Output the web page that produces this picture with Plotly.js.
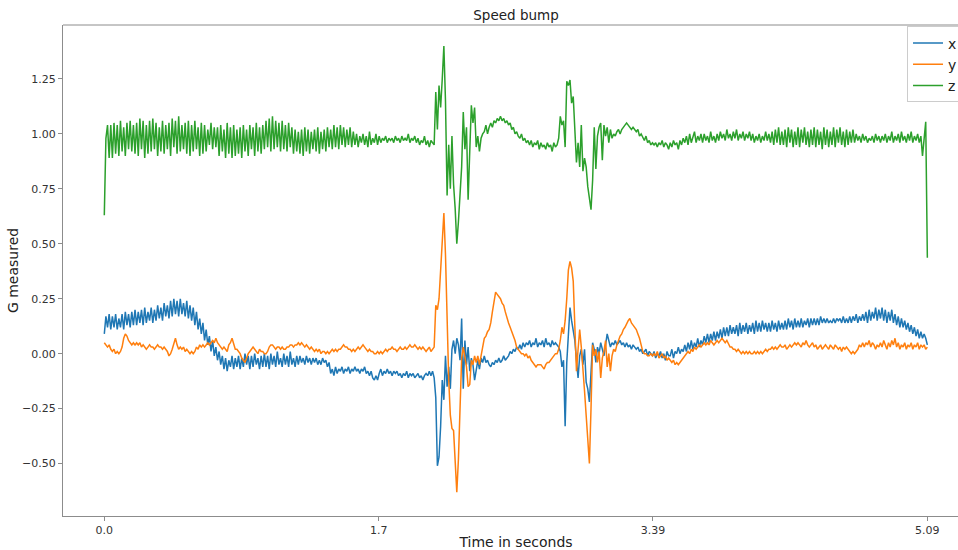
<!DOCTYPE html>
<html>
<head>
<meta charset="utf-8">
<script src="https://cdn.plot.ly/plotly-3.0.1.min.js"></script>
<style>
  html, body { margin: 0; padding: 0; overflow: hidden; background: #fff; }
  #chart { width: 980px; height: 550px; }
</style>
</head>
<body>
<div id="chart"></div>
<script>
// Accelerometer readings (in G) sampled every 10 ms while driving over a speed bump.
const sampleInterval = 0.01;

const accelX = [
  0.09, 0.17, 0.12, 0.18, 0.11, 0.17, 0.12, 0.18, 0.11, 0.16,
  0.12, 0.18, 0.11, 0.19, 0.13, 0.18, 0.12, 0.19, 0.13, 0.20,
  0.13, 0.19, 0.14, 0.20, 0.13, 0.21, 0.14, 0.19, 0.15, 0.21,
  0.14, 0.20, 0.15, 0.22, 0.16, 0.21, 0.15, 0.23, 0.17, 0.22,
  0.16, 0.24, 0.17, 0.25, 0.18, 0.24, 0.17, 0.25, 0.18, 0.23,
  0.17, 0.24, 0.16, 0.22, 0.15, 0.21, 0.13, 0.19, 0.11, 0.16,
  0.09, 0.14, 0.06, 0.11, 0.04, 0.08, 0.01, 0.06, -0.01, 0.03,
  -0.03, 0.01, -0.05, -0.01, -0.07, -0.02, -0.08, -0.03, -0.06, -0.01,
  -0.07, -0.02, -0.06, -0.01, -0.07, -0.02, -0.06, 0.00, -0.05, -0.01,
  -0.07, -0.01, -0.06, 0.00, -0.05, -0.02, -0.07, -0.01, -0.06, 0.00,
  -0.06, -0.01, -0.07, 0.00, -0.05, -0.01, -0.06, 0.01, -0.05, -0.02,
  -0.06, 0.00, -0.05, -0.01, -0.06, 0.01, -0.05, -0.02, -0.06, -0.01,
  -0.05, -0.01, -0.04, -0.02, -0.05, -0.01, -0.04, -0.02, -0.05, -0.02,
  -0.04, -0.02, -0.05, -0.03, -0.05, -0.02, -0.04, -0.03, -0.06, -0.04,
  -0.09, -0.07, -0.10, -0.06, -0.09, -0.07, -0.08, -0.06, -0.09, -0.07,
  -0.08, -0.06, -0.09, -0.07, -0.08, -0.06, -0.08, -0.07, -0.09, -0.07,
  -0.08, -0.06, -0.09, -0.08, -0.10, -0.08, -0.11, -0.12, -0.10, -0.12,
  -0.09, -0.07, -0.10, -0.08, -0.09, -0.07, -0.09, -0.08, -0.10, -0.08,
  -0.09, -0.08, -0.10, -0.09, -0.11, -0.09, -0.10, -0.08, -0.11, -0.09,
  -0.10, -0.09, -0.11, -0.10, -0.09, -0.11, -0.10, -0.12, -0.10, -0.09,
  -0.10, -0.08, -0.10, -0.08, -0.11, -0.20, -0.51, -0.47, -0.33, -0.12,
  -0.21, -0.01, -0.15, -0.06, -0.16, 0.02, 0.06, 0.00, 0.07, 0.04,
  -0.03, 0.16, -0.16, 0.06, -0.05, 0.03, -0.08, -0.02, -0.05, -0.12,
  -0.08, -0.03, -0.07, -0.02, -0.04, -0.01, -0.04, -0.03, -0.05, -0.06,
  -0.04, -0.05, -0.03, -0.04, -0.02, -0.04, -0.03, -0.01, -0.03, -0.02,
  -0.01, 0.01, 0.00, 0.02, 0.01, 0.03, 0.02, 0.04, 0.02, 0.05,
  0.03, 0.05, 0.04, 0.06, 0.03, 0.05, 0.04, 0.07, 0.03, 0.05,
  0.04, 0.06, 0.03, 0.07, 0.04, 0.05, 0.03, 0.06, 0.04, 0.05,
  0.04, 0.03, 0.01, -0.06, -0.03, -0.33, -0.04, 0.12, 0.21, 0.15,
  0.10, 0.06, -0.03, -0.11, -0.01, 0.02, -0.05, 0.02, -0.13, -0.16,
  -0.22, -0.09, 0.05, 0.02, -0.04, 0.03, 0.00, 0.05, 0.02, -0.01,
  0.04, 0.09, 0.06, 0.03, 0.05, 0.04, 0.06, 0.04, 0.05, 0.06,
  0.04, 0.05, 0.03, 0.05, 0.03, 0.04, 0.02, 0.04, 0.03, 0.02,
  0.03, 0.01, 0.02, 0.00, 0.01, 0.02, -0.01, 0.01, 0.00, -0.01,
  0.01, -0.02, 0.00, -0.01, 0.01, -0.02, 0.00, -0.03, 0.01, -0.01,
  -0.01, 0.02, -0.02, 0.01, 0.00, 0.03, 0.00, 0.02, 0.01, 0.04,
  0.01, 0.05, 0.02, 0.06, 0.02, 0.05, 0.03, 0.07, 0.03, 0.06,
  0.04, 0.08, 0.05, 0.09, 0.05, 0.09, 0.06, 0.10, 0.06, 0.10,
  0.07, 0.11, 0.07, 0.12, 0.08, 0.12, 0.08, 0.13, 0.09, 0.12,
  0.09, 0.13, 0.08, 0.14, 0.09, 0.13, 0.10, 0.14, 0.09, 0.13,
  0.10, 0.14, 0.09, 0.15, 0.10, 0.14, 0.10, 0.15, 0.11, 0.14,
  0.10, 0.14, 0.10, 0.15, 0.11, 0.14, 0.10, 0.15, 0.11, 0.14,
  0.11, 0.15, 0.11, 0.16, 0.12, 0.15, 0.11, 0.16, 0.12, 0.15,
  0.12, 0.16, 0.12, 0.15, 0.13, 0.16, 0.12, 0.16, 0.13, 0.16,
  0.13, 0.16, 0.13, 0.17, 0.14, 0.16, 0.14, 0.16, 0.14, 0.15,
  0.14, 0.16, 0.14, 0.16, 0.15, 0.16, 0.14, 0.17, 0.14, 0.16,
  0.14, 0.17, 0.14, 0.17, 0.15, 0.18, 0.14, 0.17, 0.15, 0.18,
  0.15, 0.19, 0.14, 0.20, 0.15, 0.19, 0.16, 0.21, 0.15, 0.20,
  0.16, 0.21, 0.15, 0.20, 0.14, 0.19, 0.15, 0.20, 0.14, 0.18,
  0.13, 0.17, 0.12, 0.16, 0.12, 0.15, 0.11, 0.14, 0.10, 0.13,
  0.09, 0.12, 0.08, 0.11, 0.07, 0.10, 0.07, 0.09, 0.07, 0.04
];

const accelY = [
  0.05, 0.04, 0.03, 0.04, 0.02, 0.01, 0.02, 0.00, 0.01, 0.00,
  0.01, 0.03, 0.07, 0.09, 0.08, 0.06, 0.05, 0.04, 0.05, 0.04,
  0.05, 0.04, 0.05, 0.03, 0.04, 0.03, 0.02, 0.03, 0.04, 0.03,
  0.03, 0.02, 0.03, 0.04, 0.03, 0.03, 0.02, 0.03, 0.02, 0.01,
  -0.01, 0.00, 0.02, 0.05, 0.07, 0.04, 0.02, 0.03, 0.02, 0.03,
  0.01, 0.02, 0.01, 0.00, 0.01, 0.00, 0.01, 0.03, 0.02, 0.04,
  0.03, 0.04, 0.03, 0.04, 0.05, 0.04, 0.05, 0.06, 0.05, 0.07,
  0.05, 0.04, 0.03, 0.02, 0.03, 0.02, 0.01, 0.04, 0.05, 0.07,
  0.04, 0.02, 0.02, 0.01, 0.00, -0.02, -0.03, -0.04, -0.02, 0.00,
  0.01, 0.02, 0.03, 0.02, 0.01, 0.00, 0.02, 0.01, 0.01, 0.00,
  0.00, 0.01, 0.03, 0.04, 0.04, 0.03, 0.02, 0.03, 0.03, 0.02,
  0.03, 0.02, 0.02, 0.03, 0.03, 0.04, 0.04, 0.03, 0.04, 0.04,
  0.05, 0.04, 0.05, 0.04, 0.03, 0.04, 0.03, 0.02, 0.03, 0.02,
  0.01, 0.02, 0.01, 0.02, 0.00, 0.01, 0.01, 0.00, 0.01, 0.00,
  0.01, 0.02, 0.01, 0.02, 0.01, 0.02, 0.02, 0.03, 0.04, 0.03,
  0.03, 0.02, 0.02, 0.01, 0.02, 0.01, 0.02, 0.03, 0.02, 0.03,
  0.04, 0.03, 0.02, 0.01, 0.02, 0.01, 0.01, 0.00, 0.00, 0.01,
  0.00, 0.01, 0.00, 0.01, 0.02, 0.01, 0.02, 0.02, 0.03, 0.02,
  0.02, 0.01, 0.02, 0.03, 0.02, 0.02, 0.03, 0.02, 0.03, 0.04,
  0.03, 0.03, 0.04, 0.03, 0.02, 0.03, 0.02, 0.03, 0.02, 0.01,
  0.02, 0.03, 0.01, 0.02, 0.03, 0.22, 0.20, 0.25, 0.38, 0.52,
  0.64, 0.45, 0.10, -0.12, -0.28, -0.34, -0.35, -0.47, -0.63, -0.48,
  -0.18, -0.02, 0.03, -0.01, -0.06, -0.15, -0.14, -0.03, -0.05, -0.01,
  -0.04, -0.01, -0.05, -0.01, 0.03, 0.07, 0.08, 0.10, 0.11, 0.14,
  0.19, 0.24, 0.28, 0.27, 0.26, 0.25, 0.23, 0.22, 0.19, 0.16,
  0.14, 0.12, 0.10, 0.08, 0.06, 0.03, 0.02, 0.01, 0.00, 0.00,
  -0.01, 0.00, -0.02, -0.01, -0.03, -0.04, -0.05, -0.06, -0.05, -0.05,
  -0.05, -0.06, -0.07, -0.05, -0.04, -0.04, -0.03, -0.02, -0.01, 0.00,
  0.00, 0.02, 0.06, 0.12, 0.09, 0.15, 0.25, 0.38, 0.42, 0.39,
  0.33, 0.10, -0.08, 0.02, 0.11, 0.03, -0.10, -0.17, -0.28, -0.40,
  -0.50, -0.25, 0.04, -0.01, 0.02, -0.04, 0.01, -0.11, -0.02, 0.01,
  0.06, -0.06, 0.00, -0.08, -0.01, 0.02, 0.01, 0.04, 0.06, 0.08,
  0.09, 0.11, 0.12, 0.14, 0.15, 0.16, 0.14, 0.13, 0.12, 0.11,
  0.09, 0.07, 0.04, 0.01, 0.00, 0.00, -0.01, -0.01, 0.00, -0.01,
  0.00, -0.01, 0.01, -0.02, -0.01, 0.00, -0.02, -0.01, -0.03, -0.02,
  -0.03, -0.04, -0.03, -0.05, -0.04, -0.05, -0.04, -0.03, -0.02, -0.01,
  0.00, 0.01, 0.00, 0.02, 0.01, 0.03, 0.02, 0.03, 0.04, 0.03,
  0.04, 0.05, 0.04, 0.05, 0.04, 0.06, 0.05, 0.04, 0.05, 0.06,
  0.05, 0.06, 0.07, 0.06, 0.05, 0.06, 0.04, 0.03, 0.03, 0.02,
  0.02, 0.01, 0.02, 0.01, 0.00, 0.01, 0.00, 0.01, 0.00, 0.01,
  0.00, 0.00, 0.01, 0.00, 0.01, 0.00, 0.01, 0.00, 0.01, 0.02,
  0.01, 0.02, 0.02, 0.03, 0.02, 0.03, 0.02, 0.03, 0.04, 0.03,
  0.03, 0.04, 0.02, 0.03, 0.04, 0.03, 0.04, 0.05, 0.04, 0.05,
  0.04, 0.03, 0.05, 0.04, 0.06, 0.04, 0.03, 0.04, 0.05, 0.03,
  0.04, 0.02, 0.03, 0.04, 0.02, 0.03, 0.04, 0.03, 0.02, 0.04,
  0.03, 0.02, 0.04, 0.03, 0.02, 0.03, 0.01, 0.03, 0.02, 0.03,
  0.02, 0.01, 0.00, 0.01, 0.00, 0.01, 0.02, 0.04, 0.03, 0.05,
  0.03, 0.05, 0.04, 0.06, 0.03, 0.05, 0.04, 0.02, 0.04, 0.03,
  0.05, 0.03, 0.06, 0.04, 0.02, 0.05, 0.03, 0.06, 0.04, 0.07,
  0.03, 0.05, 0.02, 0.04, 0.03, 0.05, 0.02, 0.04, 0.03, 0.05,
  0.02, 0.04, 0.03, 0.05, 0.02, 0.04, 0.03, 0.04, 0.02, 0.03
];

const accelZ = [
  0.63, 0.98, 1.04, 0.89, 1.04, 0.89, 1.05, 0.91, 1.04, 0.90,
  1.06, 0.92, 1.03, 0.90, 1.05, 0.93, 1.06, 0.92, 1.04, 0.91,
  1.05, 0.90, 1.07, 0.93, 1.06, 0.89, 1.04, 0.91, 1.06, 0.92,
  1.07, 0.93, 1.05, 0.90, 1.03, 0.92, 1.06, 0.91, 1.04, 0.93,
  1.05, 0.90, 1.07, 0.94, 1.06, 0.91, 1.08, 0.92, 1.04, 0.93,
  1.05, 0.91, 1.06, 0.90, 1.04, 0.92, 1.06, 0.93, 1.03, 0.90,
  1.05, 0.91, 1.04, 0.92, 1.02, 0.95, 1.05, 0.93, 1.03, 0.94,
  1.03, 0.90, 1.04, 0.92, 1.02, 0.89, 1.05, 0.91, 1.03, 0.89,
  1.04, 0.90, 1.02, 0.91, 1.03, 0.89, 1.04, 0.92, 1.02, 0.90,
  1.04, 0.93, 1.03, 0.90, 1.05, 0.92, 1.03, 0.91, 1.04, 0.93,
  1.06, 0.94, 1.07, 0.92, 1.08, 0.93, 1.06, 0.94, 1.05, 0.92,
  1.06, 0.93, 1.04, 0.92, 1.05, 0.94, 1.03, 0.91, 1.02, 0.92,
  1.01, 0.91, 1.02, 0.90, 1.03, 0.92, 1.02, 0.91, 1.01, 0.93,
  1.02, 0.92, 1.03, 0.91, 1.01, 0.93, 1.02, 0.92, 1.03, 0.94,
  1.02, 0.93, 1.04, 0.94, 1.03, 0.93, 1.04, 0.95, 1.03, 0.94,
  1.02, 0.95, 1.03, 0.94, 1.01, 0.95, 1.00, 0.94, 0.99, 0.96,
  1.00, 0.95, 0.99, 0.94, 1.01, 0.95, 0.98, 0.96, 1.00, 0.95,
  0.99, 0.96, 0.98, 0.97, 0.99, 0.96, 0.98, 0.97, 0.98, 0.96,
  0.99, 0.97, 0.98, 0.96, 0.99, 0.97, 0.98, 0.97, 1.00, 0.96,
  0.98, 0.97, 0.99, 0.96, 0.98, 0.95, 0.97, 0.96, 0.99, 0.95,
  0.97, 0.94, 0.97, 0.96, 0.95, 1.19, 1.02, 1.22, 1.12, 1.25,
  1.40, 1.15, 0.72, 0.95, 0.75, 0.99, 0.77, 0.66, 0.50, 0.60,
  0.75, 0.85, 1.10, 0.93, 1.03, 0.70, 0.92, 1.13, 1.05, 1.12,
  0.94, 0.99, 0.92, 0.98, 1.00, 1.01, 1.04, 1.00, 1.03, 1.05,
  1.03, 1.06, 1.05, 1.07, 1.06, 1.08, 1.06, 1.07, 1.05, 1.06,
  1.04, 1.05, 1.02, 1.03, 1.00, 1.01, 0.99, 0.98, 1.00, 0.97,
  0.98, 0.96, 0.97, 0.95, 0.97, 0.94, 0.96, 0.95, 0.97, 0.93,
  0.96, 0.94, 0.95, 0.93, 0.96, 0.94, 0.95, 0.92, 0.96, 0.94,
  0.95, 0.98, 1.08, 1.04, 1.06, 0.94, 1.24, 1.22, 1.245, 1.14,
  1.17, 1.01, 0.87, 0.96, 0.85, 1.04, 0.83, 0.89, 0.85, 0.76,
  0.70, 0.655, 0.79, 1.03, 0.84, 0.99, 1.03, 1.05, 0.88, 1.04,
  0.99, 1.03, 0.96, 1.02, 0.98, 1.00, 0.99, 1.01, 1.02, 1.00,
  1.02, 1.03, 1.04, 1.05, 1.04, 1.03, 1.02, 1.03, 1.02, 1.01,
  1.02, 0.99, 1.00, 0.98, 0.97, 0.99, 0.96, 0.97, 0.95, 0.96,
  0.95, 0.96, 0.94, 0.96, 0.95, 0.97, 0.94, 0.96, 0.95, 0.93,
  0.96, 0.94, 0.97, 0.95, 0.96, 0.93, 0.97, 0.95, 0.98, 0.96,
  0.99, 0.95, 1.00, 0.96, 0.98, 1.01, 0.96, 0.99, 0.97, 1.00,
  0.96, 1.00, 0.97, 0.99, 0.96, 1.01, 0.97, 0.99, 0.96, 1.00,
  0.97, 1.01, 0.98, 1.00, 0.97, 1.02, 0.98, 1.00, 0.97, 1.01,
  0.98, 1.02, 0.97, 1.00, 0.98, 1.01, 0.97, 1.00, 0.98, 1.01,
  0.97, 1.00, 0.96, 0.99, 0.97, 1.00, 0.96, 0.99, 0.97, 1.01,
  0.97, 1.00, 0.96, 1.01, 0.95, 1.02, 0.96, 1.03, 0.95, 1.01,
  0.95, 1.02, 0.94, 1.03, 0.96, 1.02, 0.94, 1.01, 0.95, 1.03,
  0.94, 1.02, 0.96, 1.03, 0.95, 1.01, 0.94, 1.02, 0.95, 1.03,
  0.94, 1.02, 0.95, 1.01, 0.93, 1.03, 0.95, 1.02, 0.94, 1.01,
  0.95, 1.03, 0.94, 1.02, 0.96, 1.03, 0.95, 1.01, 0.94, 1.02,
  0.95, 1.01, 0.96, 1.02, 0.96, 1.00, 0.97, 0.99, 0.96, 1.00,
  0.97, 0.99, 0.96, 0.98, 0.97, 0.99, 0.96, 1.00, 0.97, 0.99,
  0.96, 0.99, 0.97, 1.00, 0.96, 0.99, 0.97, 1.01, 0.96, 0.99,
  0.97, 1.00, 0.96, 1.01, 0.97, 0.99, 0.96, 1.00, 0.97, 1.01,
  0.96, 0.99, 0.97, 1.00, 0.96, 0.99, 0.90, 1.00, 1.055, 0.436
];

// Tick positions: four evenly spaced marks from start to end of the recording.
const timeTickVals = [0, 1.6967, 3.3933, 5.09];
const timeTickText = ['0.0', '1.7', '3.39', '5.09'];
const gTickVals = [-0.5, -0.25, 0, 0.25, 0.5, 0.75, 1.0, 1.25];
const gTickText = ['\u22120.50', '\u22120.25', '0.00', '0.25', '0.50', '0.75', '1.00', '1.25'];

const seriesNames = ['x', 'y', 'z'];
const seriesColors = ['#1f77b4', '#ff7f0e', '#2ca02c'];
const seriesValues = [accelX, accelY, accelZ];

const time = accelX.map((_, i) => +(i * sampleInterval).toFixed(2));

const traces = seriesValues.map((vals, k) => ({
  type: 'scatter',
  mode: 'lines',
  name: seriesNames[k],
  x: time,
  y: vals,
  line: { color: seriesColors[k], width: 1.5 }
}));

const font = 'DejaVu Sans, Liberation Sans, sans-serif';
const spine = '#8c8c8c';

const layout = {
  width: 980,
  height: 550,
  margin: { l: 63, r: 11, t: 25, b: 34 },
  paper_bgcolor: '#ffffff',
  plot_bgcolor: '#ffffff',
  font: { family: font, color: '#333333', size: 11 },
  showlegend: true,
  title: {
    text: 'Speed bump',
    font: { family: font, size: 13.5, color: '#222222' },
    x: 516 / 980, xref: 'container', xanchor: 'center',
    y: (550 - 15) / 550, yref: 'container', yanchor: 'middle'
  },
  xaxis: {
    range: [-0.2554, 5.3476],
    tickmode: 'array',
    tickvals: timeTickVals,
    ticktext: timeTickText,
    ticks: 'outside',
    ticklen: 4,
    tickcolor: spine,
    showline: true,
    linecolor: spine,
    linewidth: 1,
    showgrid: false,
    zeroline: false,
    tickfont: { family: font, size: 11, color: '#333333' },
    title: { text: 'Time in seconds', font: { family: font, size: 14, color: '#222222' }, standoff: 0 }
  },
  yaxis: {
    range: [-0.7386, 1.4955],
    tickmode: 'array',
    tickvals: gTickVals,
    ticktext: gTickText,
    ticks: 'outside',
    ticklen: 4,
    tickcolor: spine,
    showline: true,
    linecolor: spine,
    linewidth: 1,
    showgrid: false,
    zeroline: false,
    tickfont: { family: font, size: 11, color: '#333333' },
    title: { text: 'G measured', font: { family: font, size: 14, color: '#222222' }, standoff: 0 }
  },
  legend: {
    x: 0.9934, xanchor: 'right',
    y: 0.997, yanchor: 'top',
    bgcolor: 'rgba(255,255,255,0.8)',
    bordercolor: '#cccccc',
    borderwidth: 1,
    font: { family: font, size: 14, color: '#222222' },
    tracegroupgap: 0
  },
  shapes: [{
    type: 'line', xref: 'paper', yref: 'paper',
    x0: 0, x1: 1, y0: 1, y1: 1,
    line: { color: spine, width: 1 }
  }]
};

Plotly.newPlot('chart', traces, layout, { displayModeBar: false, staticPlot: true });
</script>
</body>
</html>
